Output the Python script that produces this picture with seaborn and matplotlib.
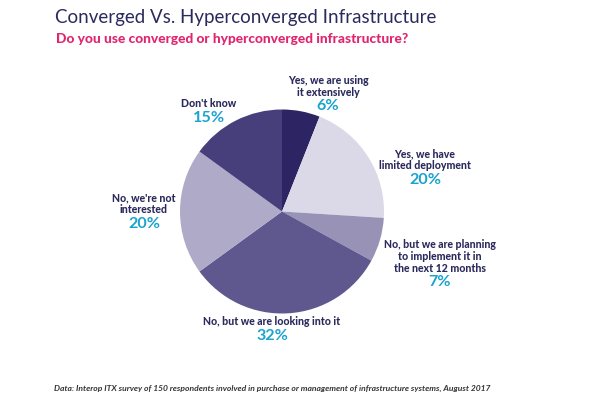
import matplotlib
matplotlib.use("Agg")
import matplotlib.pyplot as plt
import seaborn as sns

sns.set_theme(style="white")
plt.rcParams['font.family'] = ['Lato', 'DejaVu Sans']

# ---- data ----
categories = [
    "Yes, we are using\nit extensively",
    "Yes, we have\nlimited deployment",
    "No, but we are planning\nto implement it in\nthe next 12 months",
    "No, but we are looking into it",
    "No, we're not\ninterested",
    "Don't know",
]
values = [6, 20, 7, 32, 20, 15]
pct_labels = ["6%", "20%", "7%", "32%", "20%", "15%"]
colors = ["#2c2463", "#dbd9e7", "#9892b6", "#5e588f", "#aeaac7", "#463f7b"]

title = "Converged Vs. Hyperconverged Infrastructure"
subtitle = "Do you use converged or hyperconverged infrastructure?"
footer = ("Data: Interop ITX survey of 150 respondents involved in purchase or "
          "management of infrastructure systems, August 2017")

# ---- layout (pixels) ----
W, H = 600, 399
fig = plt.figure(figsize=(W / 100, H / 100), dpi=100)
fig.patch.set_facecolor("white")

cx, cy, r = 282, 211.5, 102
ax = fig.add_axes([(cx - r) / W, (H - cy - r) / H, 2 * r / W, 2 * r / H])
ax.pie(values, colors=colors, startangle=90, counterclock=False,
       wedgeprops=dict(linewidth=0))
ax.set_xlim(-1, 1)
ax.set_ylim(-1, 1)
ax.axis("off")

navy = "#2b2a5c"
cyan = "#1aa3cf"

def fx(x):
    return x / W

def fy(y):
    return 1 - y / H

fig.text(fx(55), fy(17), title, fontsize=13.5, color=navy, va="center",
         ha="left", fontweight="normal")
fig.text(fx(56), fy(39), subtitle, fontsize=9.9, color="#e0266f",
         va="center", ha="left", fontweight="black")

# label anchor positions: (x center, y of first text line, y of percentage)
label_pos = [
    (328, 80.5, 106),
    (425, 154, 180),
    (440, 245, 282.5),
    (272, 321.5, 336),
    (144, 198, 223.5),
    (209, 103.5, 118),
]
line_h = 11.5
for cat, pct, (x, y0, yp) in zip(categories, pct_labels, label_pos):
    for i, line in enumerate(cat.split("\n")):
        fig.text(fx(x), fy(y0 + i * line_h), line, fontsize=7.6,
                 fontweight="black", color=navy, ha="center", va="center")
    fig.text(fx(x), fy(yp), pct, fontsize=11.6, fontweight="bold",
             color=cyan, ha="center", va="center")

fig.text(fx(54), fy(388), footer, fontsize=6.1, style="italic",
         fontweight="bold", color="#333333", ha="left", va="center")

fig.savefig("out.png", dpi=100, facecolor="white")
